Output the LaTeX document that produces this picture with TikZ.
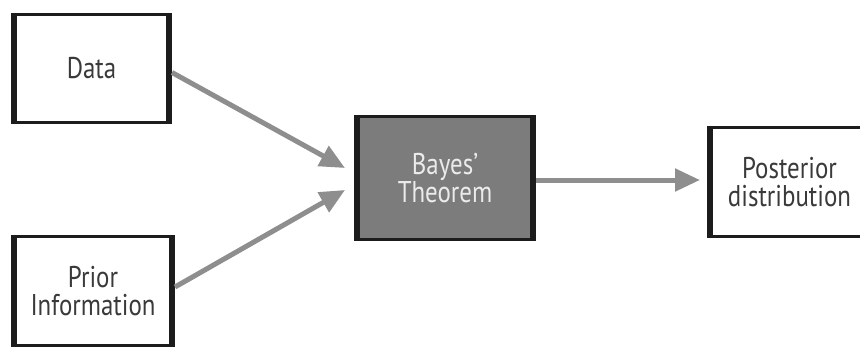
\documentclass[tikz,border=0pt]{standalone}
\usepackage{fontspec}
\setmainfont{PT Sans}[FakeStretch=0.83]
\usetikzlibrary{arrows.meta}
\definecolor{boxline}{HTML}{1C1C1C}
\definecolor{boxtext}{HTML}{3A3A3A}
\definecolor{bayesfill}{HTML}{7C7C7C}
\definecolor{flow}{HTML}{8E8E8E}
\tikzset{
  card/.style={draw=boxline, line width=3pt, fill=white, inner sep=0pt, outer sep=0pt,
    align=center, text=boxtext, font=\fontsize{30}{28}\selectfont},
  darkcard/.style={card, fill=bayesfill, text=white!92!black},
  flowarrow/.style={draw=flow, line width=5pt, -{Triangle[length=25pt,width=22pt]}},
  sidebar/.style={draw=boxline, line width=6pt}
}
\newcommand{\thicksides}[1]{%
  \draw[sidebar] ([xshift=1.5pt]#1.north west) -- ([xshift=1.5pt]#1.south west);
  \draw[sidebar] ([xshift=-1.5pt]#1.north east) -- ([xshift=-1.5pt]#1.south east);}
\begin{document}
\begin{tikzpicture}[x=1pt, y=-1pt]
  \useasboundingbox (0,0) rectangle (860,349);
  \clip (0,0) rectangle (860,349);

  % input boxes
  \node[card, minimum width=158pt, minimum height=108pt] (data) at (91.5,68.5) {Data};
  \node[card, minimum width=161pt, minimum height=109pt] (prior) at (93,291) {Prior\\Information};

  % central step
  \node[darkcard, minimum width=179pt, minimum height=123pt] (bayes) at (445,178) {Bayes’\\Theorem};

  % result box, running past the right edge
  \node[card, minimum width=162pt, minimum height=109pt] (post) at (789.5,182) {Posterior\\distribution};

  \thicksides{data}
  \thicksides{prior}
  \thicksides{bayes}
  \draw[sidebar] ([xshift=1.5pt]post.north west) -- ([xshift=1.5pt]post.south west);

  % connectors
  \draw[flowarrow] ([xshift=1.5pt,yshift=-4pt]data.east) -- ([xshift=-10.5pt,yshift=10pt]bayes.west);
  \draw[flowarrow] ([xshift=1.5pt,yshift=4pt]prior.east) -- ([xshift=-10.5pt,yshift=-12pt]bayes.west);
  \draw[flowarrow] ([xshift=1.5pt,yshift=-2pt]bayes.east) -- ([xshift=-8.5pt,yshift=2pt]post.west);
\end{tikzpicture}
\end{document}
